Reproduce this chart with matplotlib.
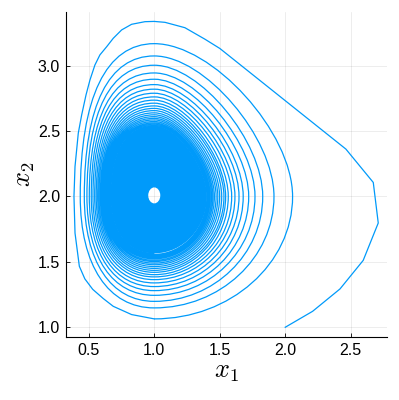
import matplotlib
matplotlib.use("Agg")
import matplotlib.pyplot as plt
from matplotlib.path import Path
from matplotlib.patches import PathPatch

plt.rcParams["mathtext.fontset"] = "cm"

# first (outer) lap of the trajectory, read point by point
lap1_x = [2.0, 2.209, 2.418, 2.595, 2.71, 2.672, 2.463, 1.501, 1.387, 1.234, 1.082, 1.0,
          0.929, 0.827, 0.751, 0.687, 0.637, 0.585, 0.547, 0.509, 0.479, 0.446, 0.42,
          0.395, 0.387, 0.395, 0.428, 0.47, 0.53, 0.61, 0.687, 0.827, 1.0]
lap1_y = [1.0, 1.122, 1.293, 1.511, 1.797, 2.107, 2.362, 3.131, 3.202, 3.29, 3.331, 3.338,
          3.336, 3.316, 3.273, 3.209, 3.145, 3.082, 3.005, 2.89, 2.776, 2.624, 2.484,
          2.229, 2.0, 1.72, 1.466, 1.37, 1.29, 1.22, 1.16, 1.097, 1.064]

# turning points of the following laps (right / top / left / bottom)
lap_right = [2.056, 1.914, 1.828, 1.769, 1.721, 1.679, 1.647, 1.616, 1.591, 1.565, 1.545,
             1.532, 1.515, 1.499, 1.485, 1.472, 1.459, 1.448, 1.438, 1.428, 1.419, 1.410, 1.402]
lap_top = [3.168, 3.074, 3.003, 2.944, 2.896, 2.855, 2.820, 2.789, 2.761, 2.736, 2.713,
           2.692, 2.673, 2.656, 2.639, 2.624, 2.610, 2.597, 2.585, 2.573, 2.562, 2.552, 2.542]
lap_left = [0.435, 0.466, 0.486, 0.504, 0.519, 0.532, 0.545, 0.557, 0.568, 0.578, 0.588,
            0.597, 0.605, 0.613, 0.620, 0.627, 0.634, 0.640, 0.646, 0.651, 0.657, 0.662, 0.667]
lap_bottom = [1.148, 1.198, 1.244, 1.280, 1.311, 1.339, 1.364, 1.385, 1.402, 1.420, 1.435,
              1.450, 1.464, 1.478, 1.490, 1.502, 1.512, 1.523, 1.532, 1.541, 1.549, 1.557, 1.565]
x_eq, y_eq = 1.0, 2.0

# small empty hole where the trajectory ends
hole_x = [1.046, 1.0, 0.954, 1.0]
hole_y = [2.008, 2.069, 2.008, 1.947]

xticks = [0.5, 1.0, 1.5, 2.0, 2.5]
yticks = [1.0, 1.5, 2.0, 2.5, 3.0]

blue = "#009AFA"
# handle lengths per quadrant (bottom->right, right->top, top->left, left->bottom)
handle = {"BR": 0.55, "RT": 0.42, "TL": 0.65, "LB": 0.62}


def quarter(p0, p1, side_start, k):
    (x0, y0), (x1, y1) = p0, p1
    if side_start:  # leaving a left/right turning point (vertical tangent)
        c1 = (x0, y0 + k * (y1 - y0))
        c2 = (x1 + k * (x0 - x1), y1)
    else:           # leaving a top/bottom turning point (horizontal tangent)
        c1 = (x0 + k * (x1 - x0), y0)
        c2 = (x1, y1 + k * (y0 - y1))
    return [c1, c2, p1]


# spiral after the first lap
verts = [(lap1_x[-1], lap1_y[-1])]
codes = [Path.MOVETO]
for r, t, l, b in zip(lap_right, lap_top, lap_left, lap_bottom):
    pts = [((r, y_eq), False, "BR"), ((x_eq, t), True, "RT"),
           ((l, y_eq), False, "TL"), ((x_eq, b), True, "LB")]
    for p, from_side, q in pts:
        verts += quarter(verts[-1], p, from_side, handle[q])
        codes += [Path.CURVE4] * 3

# dense core: last lap as outer edge, hole cut out
r, t, l, b = lap_right[-1], lap_top[-1], lap_left[-1], lap_bottom[-1]
core_v = [(r, y_eq)]
core_c = [Path.MOVETO]
for p, from_side, q in [((x_eq, t), True, "RT"), ((l, y_eq), False, "TL"),
                        ((x_eq, b), True, "LB"), ((r, y_eq), False, "BR")]:
    core_v += quarter(core_v[-1], p, from_side, handle[q])
    core_c += [Path.CURVE4] * 3
hole_pts = [(hole_x[i], hole_y[i]) for i in [0, 3, 2, 1, 0]]
core_v.append(hole_pts[0])
core_c.append(Path.MOVETO)
for i in range(1, 5):
    core_v += quarter(core_v[-1], hole_pts[i], i % 2 == 1, 0.5523)
    core_c += [Path.CURVE4] * 3

fig = plt.figure(figsize=(3.99, 4.0), dpi=100)
ax = fig.add_axes([0.1647, 0.157, 0.8043, 0.813])

ax.plot(lap1_x, lap1_y, color=blue, lw=0.9)
ax.add_patch(PathPatch(Path(verts, codes), facecolor="none", edgecolor=blue, lw=0.9))
ax.add_patch(PathPatch(Path(core_v, core_c), facecolor=blue, edgecolor="none"))

ax.set_xlim(0.324, 2.774)
ax.set_ylim(0.924, 3.41)
ax.set_xticks(xticks)
ax.set_yticks(yticks)
ax.set_xticklabels([f"{v:.1f}" for v in xticks])
ax.set_yticklabels([f"{v:.1f}" for v in yticks])
ax.grid(True, color="black", alpha=0.1, lw=0.5)
ax.set_axisbelow(True)
for s in ["top", "right"]:
    ax.spines[s].set_visible(False)
ax.tick_params(direction="in", length=3, width=0.6, labelsize=11.5, pad=4)
for lab in ax.get_xticklabels() + ax.get_yticklabels():
    lab.set_fontfamily("Liberation Sans")

ax.set_xlabel(r"$x_1$", fontsize=19)
ax.set_ylabel(r"$x_2$", fontsize=19)
ax.xaxis.set_label_coords(0.5, -0.064)
ax.yaxis.set_label_coords(-0.09, 0.5)

fig.savefig("out.png", dpi=100)
